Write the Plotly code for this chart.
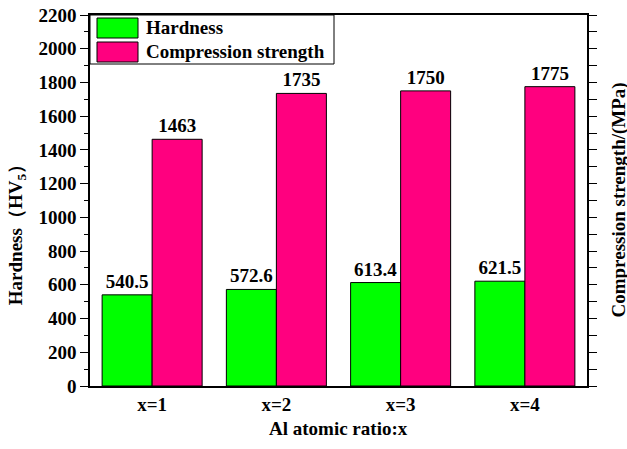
import plotly.graph_objects as go

# Al atomic ratio groups
categories = ["x=1", "x=2", "x=3", "x=4"]
hardness = [540.5, 572.6, 613.4, 621.5]          # HV5
compression = [1463, 1735, 1750, 1775]           # MPa

green = "#00FF00"
pink = "#FF007F"
serif = "Liberation Serif, Times New Roman, serif"
fs = 19

fig = go.Figure()
fig.add_trace(go.Bar(
    x=categories, y=hardness, name="Hardness",
    marker=dict(color=green, line=dict(color="black", width=1)),
    text=[f"{v:g}" for v in hardness], textposition="outside",
    textfont=dict(size=fs, color="black", family=serif, weight="bold"),
    constraintext="none", cliponaxis=False,
))
fig.add_trace(go.Bar(
    x=categories, y=compression, name="Compression strength",
    marker=dict(color=pink, line=dict(color="black", width=1)),
    text=[f"{v:g}" for v in compression], textposition="outside",
    textfont=dict(size=fs, color="black", family=serif, weight="bold"),
    constraintext="none", cliponaxis=False,
))
# carrier for the right-hand axis
fig.add_trace(go.Scatter(x=categories, y=[None] * len(categories), yaxis="y2",
                         showlegend=False, hoverinfo="skip"))

fig.update_layout(
    width=627, height=449,
    margin=dict(l=90, r=40, t=15, b=63, autoexpand=False),
    paper_bgcolor="white", plot_bgcolor="white",
    font=dict(family=serif, size=fs, color="black", weight="bold"),
    showlegend=False,
    barmode="group", bargap=0.195, bargroupgap=0,
    xaxis=dict(
        showline=True, linecolor="black", linewidth=1.5, mirror=True,
        ticks="", showgrid=False, tickfont=dict(size=fs),
    ),
    yaxis=dict(
        range=[0, 2200], dtick=200, tick0=0,
        showline=True, linecolor="black", linewidth=1.5,
        ticks="outside", ticklen=8, tickwidth=1.2, tickcolor="black",
        minor=dict(dtick=100, ticks="outside", ticklen=4, tickwidth=1.2, tickcolor="black"),
        showgrid=False, zeroline=False, tickfont=dict(size=fs),
    ),
    yaxis2=dict(
        overlaying="y", side="right", range=[0, 2200], dtick=100,
        showline=True, linecolor="black", linewidth=1.5,
        ticks="outside", ticklen=8, tickwidth=1.2, tickcolor="black",
        showticklabels=False, showgrid=False, zeroline=False,
    ),
)

# axis titles
fig.add_annotation(text="Hardness（HV<sub>5</sub>）", textangle=-90,
                   xref="paper", yref="paper", x=-73 / 497, y=0.42,
                   xanchor="center", yanchor="middle",
                   showarrow=False, font=dict(size=fs))
fig.add_annotation(text="Compression strength/(MPa)", textangle=-90,
                   xref="paper", yref="paper", x=1 + 31 / 497, y=0.5,
                   xanchor="center", yanchor="middle",
                   showarrow=False, font=dict(size=fs))
fig.add_annotation(text="Al atomic ratio:x",
                   xref="paper", yref="paper", x=0.5, y=-43 / 371,
                   xanchor="center", yanchor="middle",
                   showarrow=False, font=dict(size=fs))

# legend box drawn in paper space
px = lambda v: (v - 90) / 497
py = lambda v: (386 - v) / 371
fig.add_shape(type="rect", xref="paper", yref="paper",
              x0=px(90), x1=px(334), y0=py(64), y1=py(15),
              line=dict(color="black", width=1), fillcolor="white")
for name, color, yc in [("Hardness", green, 28), ("Compression strength", pink, 52)]:
    fig.add_shape(type="rect", xref="paper", yref="paper",
                  x0=px(97), x1=px(138), y0=py(yc + 10), y1=py(yc - 10),
                  line=dict(color="black", width=1), fillcolor=color)
    fig.add_annotation(text=name, xref="paper", yref="paper",
                       x=px(144), y=py(yc), xanchor="left", yanchor="middle",
                       showarrow=False, font=dict(size=fs))

fig.write_html("out.html")
